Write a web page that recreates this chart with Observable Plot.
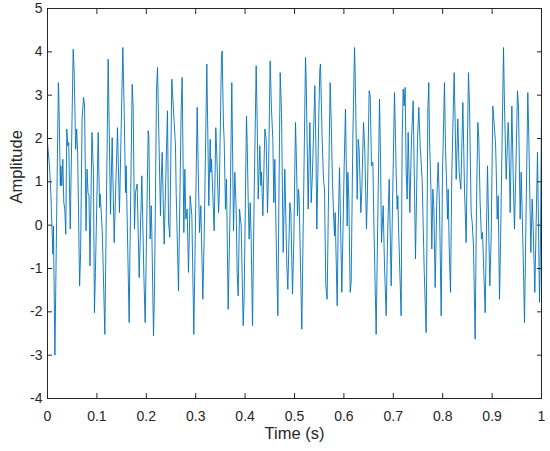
<!DOCTYPE html>
<html>
<head>
<meta charset="utf-8">
<script src="https://cdn.jsdelivr.net/npm/d3@7"></script>
<script src="https://cdn.jsdelivr.net/npm/@observablehq/plot@0.6"></script>
<style>
  html, body { margin: 0; padding: 0; background: #ffffff; }
  #chart { width: 550px; height: 451px; }
</style>
</head>
<body>
<div id="chart"></div>
<script>
const time = [
  0.000,0.004,0.007,0.008,0.011,0.012,0.015,0.022,0.023,0.026,0.027,0.029,0.031,0.033,0.035,0.037,0.039,0.041,0.043,0.046,0.047,0.052,0.054,0.057,0.059,0.061,0.065,0.067,0.070,0.073,0.075,0.078,0.080,0.082,0.084,0.086,0.088,0.090,0.093,0.095,0.097,
  0.1026,0.1053,0.1066,0.1107,0.112,0.1161,0.1228,0.1275,0.1309,0.135,0.1363,0.1417,0.1457,0.1525,0.1552,0.1579,0.1592,0.1653,0.1667,0.1714,0.1734,0.1761,0.1781,0.1815,0.1856,0.191,0.195,0.1977,
  0.2038,0.2051,0.2078,0.2099,0.2112,0.2146,0.2166,0.2186,0.2206,0.2227,0.2287,0.2301,0.2321,0.2362,0.2409,0.2429,0.2449,0.2476,0.2517,0.2537,0.2564,0.2591,0.2605,0.2652,0.2706,0.2726,0.276,0.278,0.28,0.2827,0.2854,0.2888,0.2922,0.2962,
  0.303,0.3043,0.3057,0.3077,0.3104,0.3144,0.3171,0.3225,0.3266,0.3293,0.3306,0.332,0.3374,0.3407,0.3428,0.3462,0.3475,0.3522,0.3536,0.3549,0.3563,0.3576,0.3603,0.3623,0.3657,0.3698,0.3731,0.3765,0.3792,0.3819,0.3839,0.386,0.3887,0.3921,0.3961,0.3981,
  0.4028,0.4042,0.4062,0.4082,0.4103,0.4123,0.415,0.4184,0.4224,0.4244,0.4265,0.4298,0.4319,0.4332,0.4359,0.44,0.4427,0.4453,0.4474,0.4507,0.4534,0.4561,0.4582,0.4602,0.4636,0.4663,0.4683,0.471,0.4737,0.4771,0.4804,0.4825,0.4845,0.4865,0.4906,0.4926,0.496,0.4987,
  0.502,0.5034,0.5061,0.5081,0.5094,0.5148,0.5182,0.5223,0.5236,0.5277,0.5297,0.5311,0.5338,0.5364,0.5412,0.5432,0.5452,0.5473,0.5493,0.5513,0.5526,0.556,0.5587,0.5607,0.5634,0.5661,0.5695,0.5722,0.5742,0.5769,0.579,0.581,0.5823,0.5864,0.5884,0.5911,0.5958,0.6006,
  0.6032,0.6053,0.6066,0.608,0.61,0.6127,0.6147,0.6181,0.6215,0.6228,0.6269,0.6289,0.6309,0.6343,0.6363,0.6397,0.6424,0.6457,0.6478,0.6511,0.6532,0.6559,0.6586,0.6613,0.6653,0.668,0.6721,0.6741,0.6761,0.6795,0.6822,0.6856,0.6883,0.6917,0.6957,0.6984,0.7024,
  0.7045,0.7058,0.7078,0.7092,0.7105,0.7159,0.7179,0.72,0.722,0.724,0.7261,0.7281,0.7301,0.7335,0.7368,0.7402,0.7429,0.7449,0.749,0.7517,0.7544,0.7584,0.7625,0.7665,0.7686,0.7699,0.7719,0.7733,0.776,0.778,0.78,0.782,0.7848,0.7881,0.7908,0.7935,0.7969,0.7996,0.8036,
  0.8057,0.8077,0.8097,0.8111,0.8131,0.8158,0.8185,0.8232,0.8252,0.8273,0.8306,0.8333,0.8367,0.8408,0.8441,0.8475,0.8509,0.8522,0.8543,0.8576,0.8597,0.8623,0.8657,0.8684,0.8711,0.8731,0.8758,0.8785,0.8806,0.886,0.8887,0.8907,0.8954,0.8981,0.9015,
  0.9069,0.9082,0.9103,0.9123,0.915,0.917,0.9231,0.9251,0.9285,0.9325,0.9339,0.9366,0.94,0.9427,0.9453,0.948,0.9514,0.9534,0.9568,0.9588,0.9609,0.9636,0.9656,0.969,0.9723,0.9744,0.9784,0.9811,0.9831,0.9865,0.9892,0.9919,0.996,0.998,1.0
];
const amplitude = [
  1.90,1.37,0.68,0.29,-0.67,-0.02,-3.00,3.29,2.95,0.91,1.37,0.91,1.52,0.52,0.37,-0.21,2.22,1.83,1.91,-0.09,0.60,4.06,3.52,1.75,2.22,1.68,-1.40,-0.63,2.45,2.95,2.75,-0.13,1.29,0.75,0.68,-0.94,0.60,2.14,1.22,-2.02,-1.09,
  2.14,0.41,0.72,-0.09,-0.63,-2.52,3.83,0.25,2.02,-0.40,0.14,2.25,0.29,4.10,2.68,0.75,1.37,-2.25,-0.78,3.25,2.72,-0.09,0.75,0.95,-1.21,1.14,-1.13,-2.25,
  2.18,2.06,-0.32,0.45,-0.17,-2.55,-1.48,0.75,3.10,3.64,0.22,0.98,1.68,-0.44,1.75,2.64,0.10,-0.28,3.37,2.95,2.37,1.83,0.75,-1.52,2.64,3.41,-0.17,1.29,0.14,0.37,-1.09,0.68,0.22,-2.52,
  2.72,1.83,0.91,-0.17,0.45,-1.71,-0.32,3.72,0.45,1.98,1.22,1.52,-0.13,2.25,1.60,0.29,0.60,3.91,4.02,3.14,2.29,1.98,0.37,1.06,-1.94,0.45,3.29,-0.13,1.22,0.37,-1.09,-1.63,0.37,-0.02,-2.32,-1.63,
  2.52,1.91,0.60,-0.32,0.52,-0.32,-2.32,0.75,3.68,2.45,0.60,1.83,0.91,1.22,0.22,2.22,1.98,0.29,1.22,3.79,2.68,1.98,0.52,1.52,-0.78,-2.09,0.45,3.52,2.60,-0.63,1.29,0.14,-0.94,-1.48,0.52,0.29,-1.59,-0.32,
  2.37,1.75,0.22,0.83,0.60,-2.40,0.45,3.87,3.37,0.37,1.68,2.37,0.52,1.22,3.22,1.91,-0.09,1.22,2.60,3.60,3.72,1.98,1.06,0.83,-1.40,-1.71,1.22,3.29,2.45,0.98,0.29,-0.25,0.29,-1.86,-0.09,1.33,-1.55,1.37,
  2.68,0.98,-0.02,1.22,0.60,-1.55,-1.32,1.98,4.10,3.52,0.60,1.98,1.75,0.29,0.83,2.37,1.68,-0.09,0.83,3.10,2.98,1.37,1.45,-0.32,-2.52,-0.32,2.91,1.60,-0.40,0.45,-0.94,-2.09,-0.32,1.06,-1.40,0.45,3.06,
  1.98,1.22,0.37,0.68,-0.02,-2.09,1.98,3.14,2.75,3.18,1.22,0.60,2.14,0.29,1.98,2.87,0.83,-0.78,1.98,2.72,1.83,1.06,-1.02,-2.48,0.45,2.68,3.29,1.98,0.91,-0.55,0.83,0.45,-1.44,0.60,1.45,0.45,-2.09,1.22,3.29,
  1.75,1.06,0.14,0.83,-0.48,-1.55,1.22,3.52,2.37,1.06,2.45,1.22,0.83,2.83,0.83,-0.40,2.60,3.52,2.75,0.29,0.06,-0.48,-2.63,0.45,2.37,1.98,0.52,-0.32,-0.17,-2.02,-0.02,1.37,-1.40,-0.32,2.75,
  1.91,1.37,0.14,0.68,-1.71,-0.48,4.10,2.75,1.06,2.37,1.98,0.29,2.75,1.14,-0.09,1.22,3.10,2.75,0.14,1.22,0.29,-1.09,-2.25,0.45,3.06,1.98,-0.63,0.60,-0.02,-1.55,0.06,1.68,-1.78,-0.32,2.68
];
const xTicks = [0,0.1,0.2,0.3,0.4,0.5,0.6,0.7,0.8,0.9,1];
const yTicks = [-4,-3,-2,-1,0,1,2,3,4,5];

const rows = time.map((t, i) => ({t, v: amplitude[i]}));
const ink = "#262626";
const fmtX = d => String(+d.toFixed(1));
const fmtY = d => String(d);

const chart = Plot.plot({
  width: 550,
  height: 451,
  marginLeft: 47,
  marginRight: 9,
  marginTop: 8,
  marginBottom: 53,
  style: {fontFamily: "'Liberation Sans', Arial, Helvetica, sans-serif", background: "#ffffff", color: ink},
  x: {domain: [0, 1]},
  y: {domain: [-4, 5]},
  marks: [
    Plot.line(rows, {x: "t", y: "v", stroke: "#0072BD", strokeWidth: 0.9}),
    Plot.frame({stroke: ink, strokeWidth: 1}),
    Plot.axisX({anchor: "bottom", ticks: xTicks, tickSize: -5, tickFormat: () => "", label: null, stroke: ink}),
    Plot.axisX({anchor: "top", ticks: xTicks, tickSize: -5, tickFormat: () => "", label: null, stroke: ink}),
    Plot.axisY({anchor: "left", ticks: yTicks, tickSize: -5, tickFormat: () => "", label: null, stroke: ink}),
    Plot.axisY({anchor: "right", ticks: yTicks, tickSize: -5, tickFormat: () => "", label: null, stroke: ink}),
    Plot.axisX({anchor: "bottom", ticks: xTicks, tickSize: 0, tickPadding: 13, tickFormat: fmtX, label: null, fontSize: 14, fill: ink}),
    Plot.axisY({anchor: "left", ticks: yTicks, tickSize: 0, tickPadding: 5, tickFormat: fmtY, label: null, fontSize: 14, fill: ink}),
    Plot.text(["Time (s)"], {frameAnchor: "bottom", dy: 40, fontSize: 16.5, fill: ink}),
    Plot.text(["Amplitude"], {frameAnchor: "left", dx: -31, rotate: -90, fontSize: 16.5, fill: ink})
  ]
});
document.getElementById("chart").appendChild(chart);
</script>
</body>
</html>
